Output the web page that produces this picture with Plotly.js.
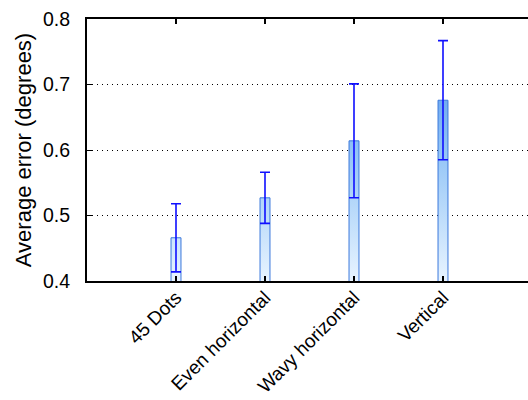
<!DOCTYPE html>
<html>
<head>
<meta charset="utf-8">
<script src="https://cdn.plot.ly/plotly-3.0.1.min.js"></script>
<style>
html,body{margin:0;padding:0;overflow:hidden;background:#fff;}
#chart{width:540px;height:400px;}
</style>
</head>
<body>
<div id="chart"></div>
<script>
var categories = ["45 Dots", "Even horizontal", "Wavy horizontal", "Vertical"];
var meanError = [0.466, 0.527, 0.614, 0.676];
var errorSpread = [0.052, 0.039, 0.087, 0.091];
var yTickValues = [0.4, 0.5, 0.6, 0.7, 0.8];
var yTickLabels = ["0.4", "0.5", "0.6", "0.7", "0.8"];

var trace = {
  type: "bar",
  x: categories,
  y: meanError,
  width: 0.112,
  marker: {color: "#8fc1f4", line: {color: "#3b78dc", width: 1}},
  error_y: {type: "data", array: errorSpread, visible: true, color: "#1010ff", thickness: 1.6, width: 5},
  hoverinfo: "none"
};

var layout = {
  width: 540, height: 400,
  margin: {l: 87, r: 8, t: 19, b: 119},
  paper_bgcolor: "#fff", plot_bgcolor: "#fff",
  showlegend: false,
  font: {family: "Liberation Sans, Arial, sans-serif", size: 19, color: "#000"},
  xaxis: {
    type: "category", range: [-1, 4],
    showline: true, linecolor: "#000", linewidth: 2, mirror: "ticks",
    ticks: "inside", ticklen: 5, tickwidth: 1.5, tickcolor: "#000",
    tickangle: -45, showgrid: false, zeroline: false,
    ticklabelstandoff: -4,
    tickfont: {size: 19}
  },
  yaxis: {
    range: [0.4, 0.8], tickvals: yTickValues, ticktext: yTickLabels,
    showline: true, linecolor: "#000", linewidth: 2, mirror: "ticks",
    ticks: "inside", ticklen: 5, tickwidth: 1, tickcolor: "#000",
    showgrid: true, gridcolor: "#000", gridwidth: 1, griddash: "1px,4px",
    zeroline: false, ticklabelstandoff: 11,
    tickfont: {size: 19.5},
    title: {text: "Average error (degrees)", font: {size: 22}, standoff: 5}
  }
};

Plotly.newPlot("chart", [trace], layout, {staticPlot: true, displayModeBar: false}).then(function (gd) {
  var svg = gd.querySelector("svg.main-svg");
  var ns = "http://www.w3.org/2000/svg";
  var h = gd._fullLayout._size.h;
  var defs = svg.querySelector("defs") || svg.insertBefore(document.createElementNS(ns, "defs"), svg.firstChild);
  var grad = document.createElementNS(ns, "linearGradient");
  grad.setAttribute("id", "barGrad");
  grad.setAttribute("gradientUnits", "userSpaceOnUse");
  grad.setAttribute("x1", "0"); grad.setAttribute("x2", "0");
  grad.setAttribute("y1", String(h)); grad.setAttribute("y2", "0");
  var stops = [["0", "#e8f4ff"], ["0.5", "#92c4f6"], ["1", "#3a84e6"]];
  stops.forEach(function (s) {
    var st = document.createElementNS(ns, "stop");
    st.setAttribute("offset", s[0]);
    st.setAttribute("stop-color", s[1]);
    grad.appendChild(st);
  });
  defs.appendChild(grad);
  gd.querySelectorAll(".barlayer .point path").forEach(function (p) {
    p.style.fill = "url(#barGrad)";
    p.style.fillOpacity = "1";
  });
});
</script>
</body>
</html>
